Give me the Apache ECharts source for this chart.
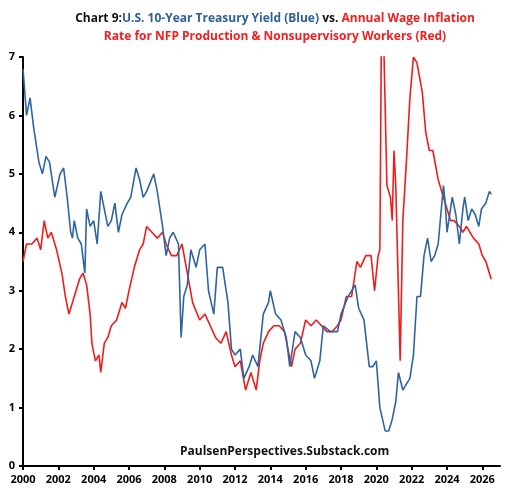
<!DOCTYPE html>
<html>
<head>
<meta charset="utf-8">
<script src="https://cdn.jsdelivr.net/npm/echarts@6/dist/echarts.min.js"></script>
<style>html,body{margin:0;padding:0;background:#fff}#c{width:531px;height:495px}</style>
</head>
<body>
<div id="c"></div>
<script>
// 10-year treasury yield, [year, %]
var treasury = [
  [2000.0, 6.8], [2000.2, 6.0], [2000.4, 6.3], [2000.6, 5.8], [2000.9, 5.2], [2001.1, 5.0], [2001.3, 5.3], [2001.5, 5.2],
  [2001.8, 4.6], [2001.9, 4.6], [2002.1, 5.0], [2002.3, 5.1], [2002.5, 4.6], [2002.7, 4.0], [2002.8, 3.9], [2002.9, 4.2],
  [2003.1, 3.9], [2003.3, 3.8], [2003.5, 3.3], [2003.6, 4.4], [2003.8, 4.1], [2004.0, 4.2], [2004.2, 3.8], [2004.4, 4.7],
  [2004.6, 4.4], [2004.8, 4.1], [2005.0, 4.2], [2005.2, 4.5], [2005.4, 4.0], [2005.6, 4.3], [2005.9, 4.5], [2006.1, 4.6],
  [2006.4, 5.1], [2006.6, 4.9], [2006.8, 4.6], [2007.0, 4.7], [2007.4, 5.0], [2007.6, 4.7], [2007.9, 4.1], [2008.1, 3.6],
  [2008.3, 3.9], [2008.5, 4.0], [2008.8, 3.8], [2008.95, 2.2], [2009.1, 2.9], [2009.3, 3.1], [2009.5, 3.7], [2009.8, 3.4],
  [2010.0, 3.7], [2010.3, 3.8], [2010.5, 3.0], [2010.8, 2.6], [2011.0, 3.4], [2011.3, 3.4], [2011.6, 2.8], [2011.8, 2.0],
  [2012.0, 1.9], [2012.3, 2.0], [2012.5, 1.5], [2012.8, 1.7], [2013.0, 1.9], [2013.3, 1.7], [2013.6, 2.6], [2013.9, 2.8],
  [2014.0, 3.0], [2014.3, 2.6], [2014.6, 2.5], [2014.9, 2.2], [2015.1, 1.7], [2015.4, 2.3], [2015.7, 2.2], [2016.0, 1.9],
  [2016.3, 1.8], [2016.5, 1.5], [2016.8, 1.8], [2017.0, 2.4], [2017.4, 2.3], [2017.8, 2.3], [2018.0, 2.6], [2018.4, 2.9],
  [2018.8, 3.1], [2019.0, 2.7], [2019.3, 2.5], [2019.6, 1.7], [2019.8, 1.7], [2020.0, 1.8], [2020.2, 1.0], [2020.5, 0.6],
  [2020.7, 0.6], [2020.9, 0.8], [2021.1, 1.1], [2021.25, 1.6], [2021.5, 1.3], [2021.7, 1.4], [2021.9, 1.5], [2022.1, 1.9],
  [2022.3, 2.9], [2022.5, 2.9], [2022.7, 3.6], [2022.9, 3.9], [2023.1, 3.5], [2023.3, 3.6], [2023.5, 3.8], [2023.8, 4.8],
  [2023.9, 4.5], [2024.0, 4.0], [2024.3, 4.6], [2024.5, 4.3], [2024.7, 3.8], [2024.9, 4.4], [2025.0, 4.6], [2025.2, 4.2],
  [2025.4, 4.4], [2025.6, 4.3], [2025.8, 4.1], [2025.95, 4.4], [2026.2, 4.5], [2026.4, 4.7], [2026.5, 4.65]
];
// annual wage inflation, production & nonsupervisory workers, [year, %]
var wages = [
  [2000.0, 3.5], [2000.2, 3.8], [2000.5, 3.8], [2000.8, 3.9], [2001.0, 3.7], [2001.2, 4.2], [2001.4, 3.9], [2001.6, 4.0],
  [2001.9, 3.7], [2002.2, 3.3], [2002.4, 2.9], [2002.6, 2.6], [2002.8, 2.8], [2003.0, 3.0], [2003.2, 3.2], [2003.4, 3.3],
  [2003.6, 3.1], [2003.8, 2.6], [2003.9, 2.1], [2004.1, 1.8], [2004.3, 1.9], [2004.4, 1.6], [2004.6, 2.1], [2004.8, 2.2],
  [2005.0, 2.4], [2005.3, 2.5], [2005.6, 2.8], [2005.8, 2.7], [2006.0, 3.0], [2006.3, 3.4], [2006.6, 3.7], [2006.8, 3.8],
  [2007.0, 4.1], [2007.3, 4.0], [2007.6, 3.9], [2007.9, 4.0], [2008.1, 3.8], [2008.4, 3.6], [2008.7, 3.6], [2009.0, 3.8],
  [2009.3, 3.3], [2009.6, 2.8], [2010.0, 2.5], [2010.3, 2.6], [2010.6, 2.4], [2010.9, 2.2], [2011.2, 2.1], [2011.5, 2.3],
  [2011.8, 1.9], [2012.0, 1.7], [2012.3, 1.8], [2012.6, 1.3], [2012.9, 1.6], [2013.0, 1.5], [2013.2, 1.3], [2013.4, 1.8],
  [2013.6, 2.1], [2013.9, 2.3], [2014.2, 2.4], [2014.5, 2.4], [2014.8, 2.3], [2015.0, 2.0], [2015.2, 1.7], [2015.4, 2.0],
  [2015.7, 2.1], [2016.0, 2.5], [2016.3, 2.4], [2016.6, 2.5], [2016.9, 2.4], [2017.2, 2.3], [2017.5, 2.3], [2017.8, 2.4],
  [2018.0, 2.5], [2018.3, 2.9], [2018.6, 2.9], [2018.9, 3.5], [2019.1, 3.4], [2019.4, 3.6], [2019.7, 3.6], [2019.9, 3.0],
  [2020.1, 3.6], [2020.2, 3.7], [2020.3, 8.0], [2020.4, 7.5], [2020.6, 4.8], [2020.8, 4.6], [2020.9, 4.2], [2021.0, 5.4],
  [2021.1, 4.8], [2021.2, 4.8], [2021.35, 1.8], [2021.5, 4.2], [2021.7, 5.2], [2021.9, 6.3], [2022.0, 6.3], [2022.1, 7.0],
  [2022.3, 6.9], [2022.6, 6.4], [2022.8, 5.7], [2023.0, 5.4], [2023.2, 5.4], [2023.5, 4.9], [2023.7, 4.7], [2024.0, 4.4],
  [2024.2, 4.2], [2024.4, 4.2], [2024.7, 4.1], [2024.9, 4.0], [2025.1, 4.1], [2025.3, 4.0], [2025.5, 3.9], [2025.8, 3.8],
  [2026.0, 3.6], [2026.2, 3.5], [2026.5, 3.2]
];

var chart = echarts.init(document.getElementById('c'));
var axisTxt = { color: '#000', fontSize: 11, fontWeight: 'bold', fontFamily: 'Open Sans' };
chart.setOption({
  animation: false,
  title: {
    left: 270, textAlign: 'center', top: 5,
    text: '{k|Chart 9:}{b|U.S. 10-Year Treasury Yield (Blue)}{k| vs. }{r|Annual Wage Inflation}\n{r|Rate for NFP Production & Nonsupervisory Workers (Red)}',
    textStyle: {
      rich: {
        k: { color: '#111', fontSize: 12, fontWeight: 'bold', fontFamily: 'Open Sans', lineHeight: 18 },
        b: { color: '#2f5f97', fontSize: 12, fontWeight: 'bold', fontFamily: 'Open Sans', lineHeight: 18 },
        r: { color: '#f02020', fontSize: 12, fontWeight: 'bold', fontFamily: 'Open Sans', lineHeight: 18 }
      }
    }
  },
  graphic: [{
    type: 'text', left: 180, top: 446,
    style: { text: 'PaulsenPerspectives.Substack.com', fill: '#111', font: 'bold 12px "Open Sans"' }
  }],
  grid: { left: 23, right: 31, top: 57, bottom: 29 },
  xAxis: {
    type: 'value', min: 2000, max: 2027, interval: 2,
    axisLine: { lineStyle: { color: '#000', width: 2 } },
    axisTick: { show: true, length: 4, lineStyle: { color: '#000', width: 2 } },
    axisLabel: Object.assign({ margin: 8, showMaxLabel: false,
      formatter: function (v) { return v <= 2026 ? String(v) : ''; } }, axisTxt),
    splitLine: { show: false }
  },
  yAxis: {
    type: 'value', min: 0, max: 7, interval: 1,
    axisLine: { show: true, lineStyle: { color: '#000', width: 2 } },
    axisTick: { show: true, length: 4, lineStyle: { color: '#000', width: 2 } },
    axisLabel: Object.assign({ margin: 8 }, axisTxt),
    splitLine: { show: false }
  },
  series: [
    { type: 'line', data: wages, showSymbol: false, clip: true, z: 2,
      lineStyle: { color: '#f01c1c', width: 1.6 } },
    { type: 'line', data: treasury, showSymbol: false, clip: true, z: 3,
      lineStyle: { color: '#2e64a0', width: 1.6 } }
  ]
});
</script>
</body>
</html>
